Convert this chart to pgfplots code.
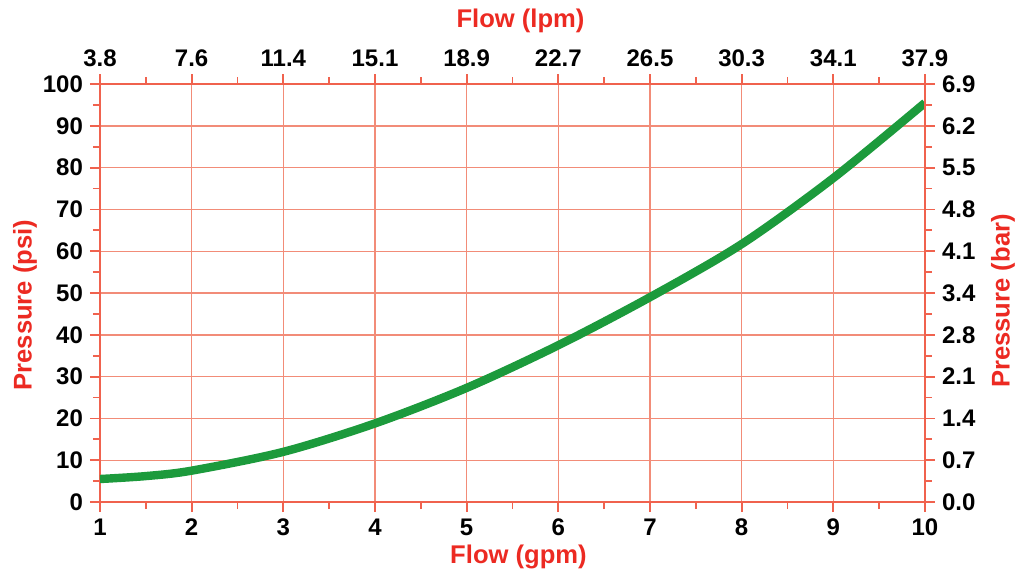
\documentclass[border=0pt]{standalone}
\usepackage{fontspec}
\setmainfont{Liberation Sans}
\usepackage{pgfplots}
\pgfplotsset{compat=1.18}
\definecolor{axc}{HTML}{F0624E}
\definecolor{gridc}{HTML}{F28C78}
\definecolor{labc}{HTML}{EC2A22}
\definecolor{curve}{HTML}{1C9A3C}
\begin{document}
\begin{tikzpicture}
\path[use as bounding box] (-50pt,-39pt) rectangle (459.5pt,251pt);
\pgfplotsset{
  common/.style={
    scale only axis, width=412.5pt, height=209pt,
    xmin=1, xmax=10, ymin=0, ymax=100,
    xtick={1,...,10}, ytick={0,10,...,100},
    minor x tick num=1, minor y tick num=1,
    tick align=outside,
    major tick length=5pt, minor tick length=3.5pt,
    axis line style={color=axc, line width=1.3pt},
    every tick/.style={color=axc, line width=0.9pt},
    tick label style={font=\bfseries\fontsize{12}{12}\selectfont, black},
    /pgf/number format/assume math mode=true,
    label style={font=\bfseries\fontsize{12.8}{13}\selectfont, color=labc},
  }
}
\begin{axis}[common,
  axis x line*=bottom, axis y line*=left,
  grid=major, major grid style={color=gridc, line width=0.7pt},
  xlabel={Flow (gpm)}, ylabel={Pressure (psi)},
  xlabel style={at={(axis description cs:0.5,0)}, anchor=center, yshift=-27.5pt, xshift=3pt},
  ylabel style={at={(axis description cs:-0.0909,0.471)}, anchor=center},
]
\addplot[curve, line width=4.2pt, smooth] coordinates {
  (1,5.5) (1.5,6.2) (2,7.5) (3,12) (4,18.8) (5,27.3) (6,37.5) (7,49) (8,61.7) (9,77.5) (10,95.5)
};
\end{axis}
\begin{axis}[common,
  axis x line*=top, axis y line*=right,
  xticklabels={3.8,7.6,11.4,15.1,18.9,22.7,26.5,30.3,34.1,37.9},
  yticklabels={0.0,0.7,1.4,2.1,2.8,3.4,4.1,4.8,5.5,6.2,6.9},
  xlabel={Flow (lpm)}, ylabel={Pressure (bar)},
  xlabel style={at={(axis description cs:0.5,1)}, anchor=center, yshift=31.5pt, xshift=4pt},
  ylabel style={at={(axis description cs:1.0945,0.481)}, anchor=center},
]
\addplot[draw=none] coordinates {(1,0) (10,100)};
\end{axis}
\end{tikzpicture}
\end{document}
